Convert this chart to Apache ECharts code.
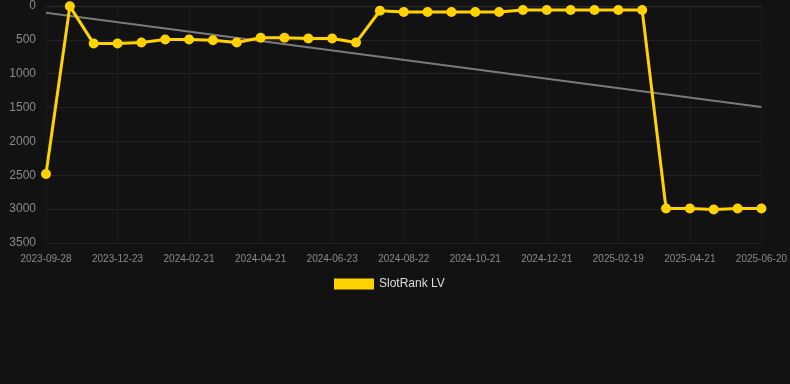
<!DOCTYPE html>
<html>
<head>
<meta charset="utf-8">
<script src="https://cdn.jsdelivr.net/npm/echarts@6/dist/echarts.min.js"></script>
<style>
  html, body { margin: 0; padding: 0; background: #121212; }
  #chart { width: 790px; height: 384px; }
</style>
</head>
<body>
<div id="chart"></div>
<script>
const dates = [
  '2023-09-28', '2023-10-27', '2023-11-25', '2023-12-23', '2024-01-12', '2024-02-01',
  '2024-02-21', '2024-03-12', '2024-04-01', '2024-04-21', '2024-05-12', '2024-06-02',
  '2024-06-23', '2024-07-13', '2024-08-02', '2024-08-22', '2024-09-11', '2024-10-01',
  '2024-10-21', '2024-11-10', '2024-12-01', '2024-12-21', '2025-01-10', '2025-01-30',
  '2025-02-19', '2025-03-11', '2025-04-01', '2025-04-21', '2025-05-11', '2025-05-31',
  '2025-06-20'
];
const rankLV = [
  2480, 5, 555, 555, 540, 495, 495, 505, 540, 468, 468, 480,
  480, 540, 70, 88, 88, 88, 88, 88, 60, 60, 60, 60,
  60, 60, 2990, 2990, 3005, 2990, 2990
];
// trend line end points
const trendStart = 100;
const trendEnd = 1490;

const chart = echarts.init(document.getElementById('chart'), null, { renderer: 'canvas' });

const option = {
  backgroundColor: '#121212',
  animation: false,
  grid: { left: 46, right: 28, top: 6, bottom: 141 },
  legend: {
    top: 278,
    left: 334,
    icon: 'rect',
    itemWidth: 40,
    itemHeight: 11,
    itemGap: 10,
    padding: 0,
    data: ['SlotRank LV'],
    textStyle: { color: '#dddddd', fontSize: 12, fontFamily: 'Arial, Liberation Sans, sans-serif' }
  },
  xAxis: {
    type: 'category',
    data: dates,
    boundaryGap: false,
    axisLine: { show: true, lineStyle: { color: '#2a2a2a' } },
    axisTick: { show: false },
    axisLabel: {
      interval: 2,
      color: '#8a8a8a',
      fontSize: 10,
      margin: 11,
      fontFamily: 'Arial, Liberation Sans, sans-serif'
    },
    splitLine: { show: true, interval: 2, lineStyle: { color: '#1c1c1c' } }
  },
  yAxis: {
    type: 'value',
    inverse: true,
    min: 0,
    max: 3500,
    interval: 500,
    axisLine: { show: false },
    axisTick: { show: false },
    axisLabel: {
      color: '#8a8a8a',
      fontSize: 12,
      margin: 10,
      formatter: (value) => String(value),
      fontFamily: 'Arial, Liberation Sans, sans-serif'
    },
    splitLine: { lineStyle: { color: '#222222' } }
  },
  series: [
    {
      name: 'SlotRank LV',
      type: 'line',
      data: rankLV,
      color: '#FFD200',
      lineStyle: { width: 3 },
      symbol: 'circle',
      symbolSize: 10,
      z: 3
    },
    {
      name: 'trend',
      type: 'line',
      data: [[dates[0], trendStart], [dates[dates.length - 1], trendEnd]],
      color: '#7a7a7a',
      lineStyle: { width: 2 },
      showSymbol: false,
      z: 2
    }
  ]
};

chart.setOption(option);
</script>
</body>
</html>
